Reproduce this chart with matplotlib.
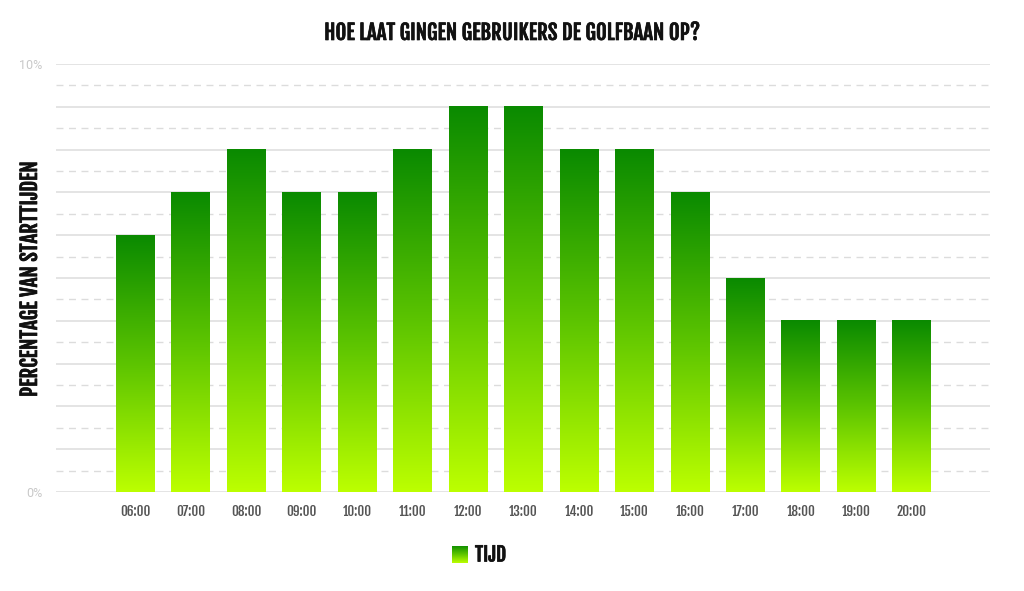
import numpy as np
import matplotlib
matplotlib.use("Agg")
import matplotlib.pyplot as plt
import matplotlib.patheffects as pe
from matplotlib.colors import LinearSegmentedColormap

categories = ["06:00", "07:00", "08:00", "09:00", "10:00", "11:00", "12:00",
              "13:00", "14:00", "15:00", "16:00", "17:00", "18:00", "19:00", "20:00"]
values = [6, 7, 8, 7, 7, 8, 9, 9, 8, 8, 7, 5, 4, 4, 4]
y_ticks = [0, 10]
y_ticklabels = ["0%", "10%"]
title = "HOE LAAT GINGEN GEBRUIKERS DE GOLFBAAN OP?"
ylabel = "PERCENTAGE VAN STARTTIJDEN"
legend_label = "TIJD"

COND = ["Fjalla One", "Oswald", "DejaVu Sans"]
BOLD = [pe.withStroke(linewidth=0.5, foreground="#111111")]
cmap = LinearSegmentedColormap.from_list("g", ["#bcff00", "#5cc400", "#0a8a00"])

fig = plt.figure(figsize=(10.24, 5.91), dpi=100)
W, H = 1024, 591
ax = fig.add_axes([56 / W, (H - 492) / H, (990 - 56) / W, (492 - 64) / H])

x = np.arange(len(categories))
bars = ax.bar(x, values, width=0.7, color="none", zorder=3)
grad = np.linspace(0, 1, 256).reshape(-1, 1)
for b in bars:
    x0, y0, w, h = b.get_x(), b.get_y(), b.get_width(), b.get_height()
    ax.imshow(grad, extent=[x0, x0 + w, y0, y0 + h], aspect="auto",
              cmap=cmap, origin="lower", zorder=3)

ax.set_xlim(-1.43, len(categories) - 1 + 1.41)
ax.set_ylim(0, 10)

for yv in np.arange(0, 10.01, 1):
    ax.axhline(yv, color="#dcdcdc", lw=1.1, zorder=1)
for yv in np.arange(0.5, 10, 1):
    ax.axhline(yv, color="#dcdcdc", lw=1.0, ls=(0, (5, 4)), zorder=1)

for s in ax.spines.values():
    s.set_visible(False)
ax.set_yticks(y_ticks)
ax.set_yticklabels(y_ticklabels, color="#c8c8c8", fontsize=9, family=["Roboto", "DejaVu Sans"])
ax.set_xticks(x)
ax.set_xticklabels(categories, color="#555555", fontsize=9.5, family=COND)
ax.tick_params(length=0)
ax.tick_params(axis="x", pad=9)
ax.tick_params(axis="y", pad=10)

fig.text(0.5, (H - 33) / H, title, ha="center", va="center", fontsize=15,
         color="#111111", family=COND, path_effects=BOLD)
fig.text(30 / W, (H - 279) / H, ylabel, ha="center", va="center", rotation=90,
         fontsize=15, color="#111111", family=COND, path_effects=BOLD)

lax = fig.add_axes([452 / W, (H - 563) / H, 16 / W, 17 / H])
lax.imshow(grad, aspect="auto", cmap=cmap, origin="lower")
lax.axis("off")
fig.text(475 / W, (H - 555) / H, legend_label, ha="left", va="center", fontsize=14,
         color="#111111", family=COND, path_effects=BOLD)

fig.savefig("out.png", dpi=100)
